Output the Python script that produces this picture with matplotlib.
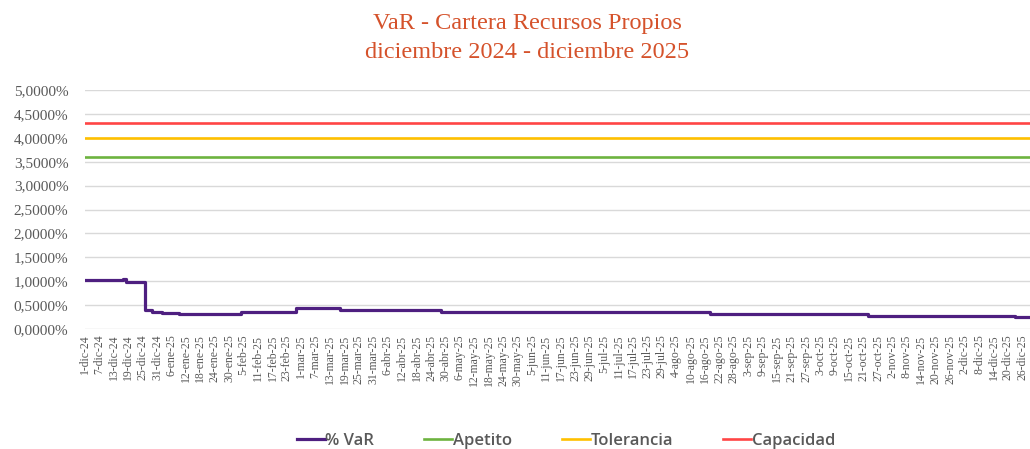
import matplotlib.pyplot as plt
import matplotlib.dates as mdates
from matplotlib.ticker import FuncFormatter, FixedLocator
from datetime import date, timedelta

# datos (cambios de nivel del % VaR)
fechas_var = [date(2024, 12, 1), date(2024, 12, 17), date(2024, 12, 18), date(2024, 12, 26),
              date(2024, 12, 29), date(2025, 1, 2), date(2025, 1, 9), date(2025, 2, 4),
              date(2025, 2, 27), date(2025, 3, 17), date(2025, 4, 28), date(2025, 8, 18),
              date(2025, 10, 23), date(2025, 12, 23), date(2025, 12, 31)]
valores_var = [1.02, 1.05, 0.98, 0.40, 0.36, 0.33, 0.315, 0.355,
               0.43, 0.39, 0.36, 0.32, 0.28, 0.25, 0.25]

apetito = 3.6
tolerancia = 4.0
capacidad = 4.3

inicio = date(2024, 12, 1)
fin_eje = date(2025, 12, 31)
meses = ['ene', 'feb', 'mar', 'abr', 'may', 'jun', 'jul', 'ago', 'sep', 'oct', 'nov', 'dic']

fig = plt.figure(figsize=(10.3, 4.49), dpi=100)
ax = fig.add_axes([85 / 1030, 1 - 329 / 449, 1 - 85 / 1030, 239 / 449])

x0 = mdates.date2num(inicio)
xv = [mdates.date2num(d) for d in fechas_var]
xend = mdates.date2num(fin_eje)

ax.plot(xv, valores_var, drawstyle='steps-post', color='#4E1F80', lw=2.3, label='% VaR', zorder=5)
ax.plot([x0, xend], [apetito] * 2, color='#6DB33F', lw=1.9, label='Apetito')
ax.plot([x0, xend], [tolerancia] * 2, color='#FFC000', lw=1.9, label='Tolerancia')
ax.plot([x0, xend], [capacidad] * 2, color='#FF4545', lw=1.9, label='Capacidad')

ax.set_xlim(x0, x0 + 393.2)
ax.set_ylim(0, 5)
ax.set_yticks([i * 0.5 for i in range(11)])
ax.yaxis.set_major_formatter(FuncFormatter(lambda v, p: f"{v:.4f}%".replace('.', ',')))

# etiquetas cada 6 dias
ticks = []
labels = []
d = inicio
while d <= date(2025, 12, 27):
    ticks.append(mdates.date2num(d))
    labels.append(f"{d.day}-{meses[d.month - 1]}-{d.year % 100}")
    d += timedelta(days=6)
ax.xaxis.set_major_locator(FixedLocator(ticks))
ax.set_xticklabels(labels, rotation=90, fontsize=8.5, family='Liberation Serif', color='#595959')
for t in ax.get_yticklabels():
    t.set_family('Liberation Serif')
    t.set_fontsize(11)
    t.set_color('#595959')
ax.tick_params(axis='both', length=0)
ax.tick_params(axis='y', pad=12)
ax.tick_params(axis='x', pad=4)

ax.grid(axis='y', color='#D9D9D9', lw=1)
ax.set_axisbelow(True)
for s in ax.spines.values():
    s.set_visible(False)

fig.text(0.512, 1 - 23 / 449, 'VaR - Cartera Recursos Propios', ha='center', va='center',
         fontsize=17.5, family='Liberation Serif', color='#D5522B')
fig.text(0.512, 1 - 53 / 449, 'diciembre 2024 - diciembre 2025', ha='center', va='center',
         fontsize=17.5, family='Liberation Serif', color='#D5522B')

leg = fig.legend(loc='center', bbox_to_anchor=(566 / 1030, 1 - 441 / 449), ncol=4, frameon=False,
                 handlelength=1.67, handletextpad=0.05, columnspacing=3.0,
                 prop={'family': 'Open Sans', 'size': 12, 'weight': 'semibold'})
for t in leg.get_texts():
    t.set_color('#595959')

fig.savefig('out.png', dpi=100)
